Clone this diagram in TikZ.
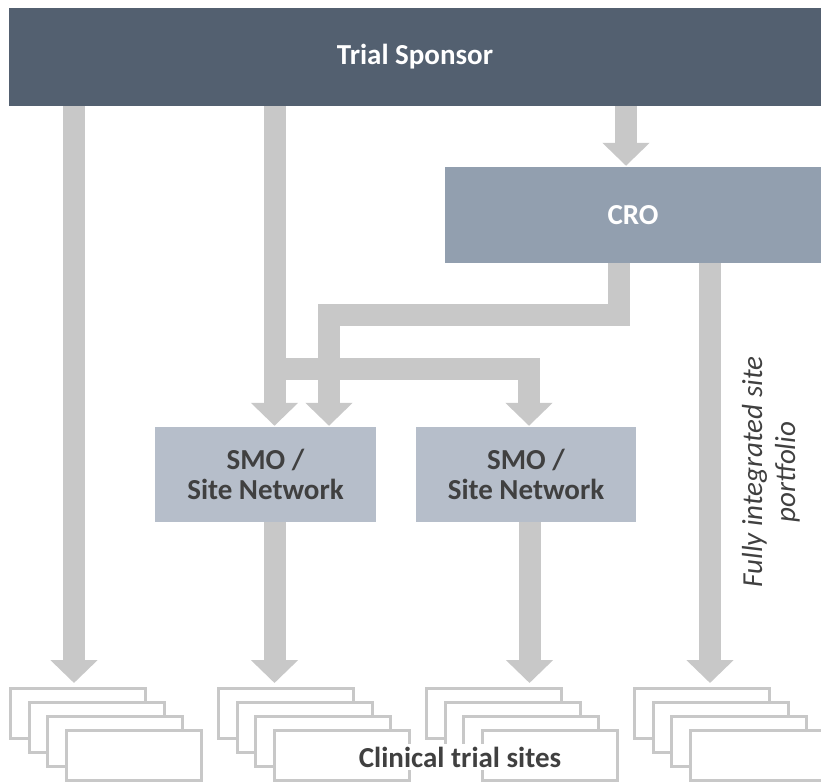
\documentclass[tikz,border=0pt]{standalone}
\usepackage{fontspec}
\setmainfont{Carlito}
\usetikzlibrary{arrows.meta}
\definecolor{sponsorblue}{HTML}{536070}
\definecolor{croblue}{HTML}{929FAF}
\definecolor{smoblue}{HTML}{B6BECA}
\definecolor{flowgray}{HTML}{C8C8C8}
\definecolor{textgray}{HTML}{404040}

\begin{document}
\begin{tikzpicture}[x=1pt, y=-1pt,
  box/.style={rectangle, inner sep=0pt, align=center, font=\fontsize{29}{30}\selectfont\bfseries},
  flow/.style={draw=flowgray, line width=22pt, -{Triangle[width=46pt,length=23pt]}},
  sitebox/.style={draw=flowgray, line width=3pt, fill=white, inner sep=0pt, minimum width=135pt, minimum height=50pt}]
\useasboundingbox (0,0) rectangle (821,783);
\clip (0,0) rectangle (821,783);
% boxes
\node[box, fill=sponsorblue, text=white, minimum width=812pt, minimum height=98pt] (sponsor) at (415,57) {Trial Sponsor};
\node[box, fill=croblue, text=white, minimum width=376pt, minimum height=96pt] (cro) at (633,215) {CRO};
\node[box, fill=smoblue, text=textgray, minimum width=221pt, minimum height=95pt] (smoA) at (265.5,474.5) {SMO /\\Site Network};
\node[box, fill=smoblue, text=textgray, minimum width=220pt, minimum height=95pt] (smoB) at (526,474.5) {SMO /\\Site Network};
% stacks of sites
\foreach \s in {0,...,3}
  \foreach \j in {0,...,3}
    \node[sitebox] (site\s\j) at ({78+208*\s+18.67*\j}, {713.5+14*\j}) {};
% arrows
\coordinate (fork) at (274.5,369);
\draw[flow, shorten >=4pt] (74,0 |- sponsor.south) -- (74,0 |- site00.north);
\draw[flow, shorten >=1pt] (274.5,0 |- sponsor.south) -- (274.5,0 |- smoA.north);
\draw[flow, shorten >=1pt] (fork) -| (529,0 |- smoB.north);
\draw[flow, shorten >=1pt] (626,0 |- sponsor.south) -- (626,0 |- cro.north);
\draw[flow, shorten >=1pt] (618.5,0 |- cro.south) |- (329,315) -- (329,0 |- smoA.north);
\draw[flow, shorten >=4pt] (710,0 |- cro.south) -- (710,0 |- site30.north);
\draw[flow, shorten >=4pt] (274.5,0 |- smoA.south) -- (274.5,0 |- site10.north);
\draw[flow, shorten >=4pt] (529.5,0 |- smoB.south) -- (529.5,0 |- site20.north);
% labels
\node[rotate=90, align=center, text=textgray, font=\fontsize{29}{33}\selectfont\itshape] (portfolio) at (771,472) {Fully integrated site\\portfolio};
\node[fill=white, inner sep=3pt, text=textgray, font=\fontsize{29}{30}\selectfont\bfseries] (sites) at (460,757) {Clinical trial sites};
\end{tikzpicture}
\end{document}
